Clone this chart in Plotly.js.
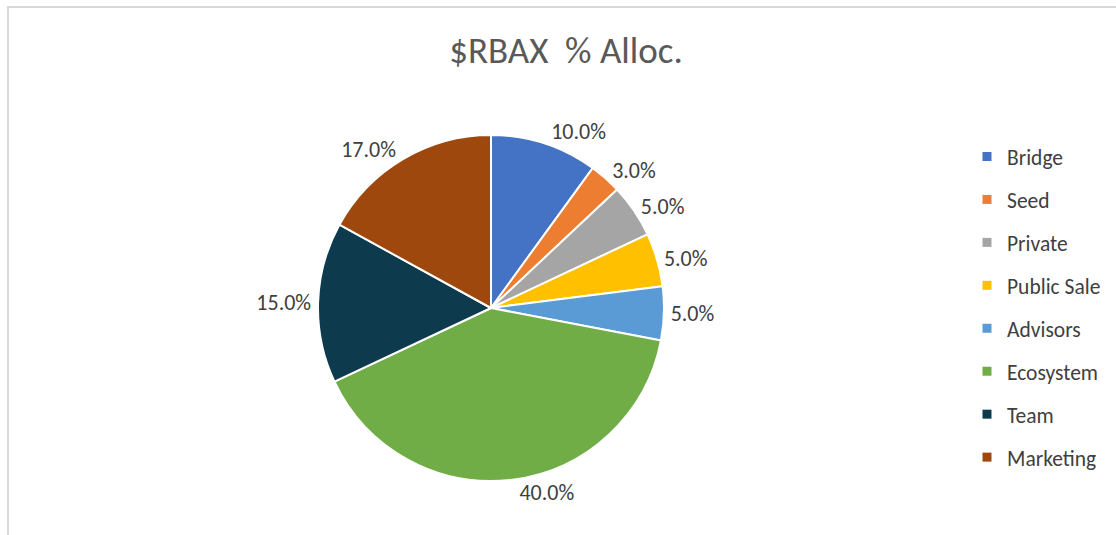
<!DOCTYPE html>
<html>
<head>
<meta charset="utf-8">
<script src="https://cdn.plot.ly/plotly-3.0.1.min.js"></script>
<style>
  html, body { margin: 0; padding: 0; background: #ffffff; }
  #wrap { position: relative; width: 1116px; height: 535px; overflow: hidden; }
  #chart { position: absolute; left: 0; top: 0; width: 1116px; height: 535px; }
  #frame { position: absolute; left: 7px; top: 6px; width: 1200px; height: 600px;
           border: 2px solid #d9d9d9; box-sizing: border-box; pointer-events: none; }
</style>
</head>
<body>
<div id="wrap">
  <div id="chart"></div>
  <div id="frame"></div>
</div>
<script>
const categories = ["Bridge", "Seed", "Private", "Public Sale", "Advisors", "Ecosystem", "Team", "Marketing"];
const allocation = [10, 3, 5, 5, 5, 40, 15, 17];
const sliceColors = ["#4472C4", "#ED7D31", "#A5A5A5", "#FFC000", "#5B9BD5", "#70AD47", "#0E3A4E", "#9E480E"];
const chartTitle = "$RBAX  % Alloc.";

const FONT = "Calibri, Carlito, Lato, 'Open Sans', sans-serif";

const pie = {
  type: "pie",
  labels: categories,
  values: allocation,
  sort: false,
  direction: "clockwise",
  rotation: 0,
  marker: { colors: sliceColors, line: { color: "#ffffff", width: 2 } },
  texttemplate: "%{percent:.1%}",
  textposition: "outside",
  outsidetextfont: { family: FONT, size: 22, color: "#404040" },
  hoverinfo: "none",
  showlegend: false,
  domain: { x: [318 / 1116, 664 / 1116], y: [(535 - 481) / 535, (535 - 135) / 535] }
};

// legend entries (one group per category so spacing can match)
const legendTraces = categories.map((c, i) => ({
  type: "scatter",
  mode: "markers",
  x: [null], y: [null],
  name: c,
  legendgroup: "g" + i,
  marker: { symbol: "square", size: 9, color: sliceColors[i] },
  hoverinfo: "none",
  showlegend: true
}));

const layout = {
  width: 1116,
  height: 535,
  margin: { l: 0, r: 0, t: 0, b: 0 },
  paper_bgcolor: "#ffffff",
  plot_bgcolor: "#ffffff",
  title: {
    text: chartTitle,
    font: { family: FONT, size: 37, color: "#595959" },
    x: 566 / 1116, xanchor: "center",
    y: 1 - 50 / 535, yanchor: "middle"
  },
  xaxis: { visible: false },
  yaxis: { visible: false },
  showlegend: true,
  legend: {
    x: 967 / 1116, xanchor: "left",
    y: 1 - 136 / 535, yanchor: "top",
    font: { family: FONT, size: 21.5, color: "#404040" },
    tracegroupgap: 12,
    bgcolor: "rgba(0,0,0,0)"
  }
};

Plotly.newPlot("chart", [pie].concat(legendTraces), layout, { staticPlot: true, displayModeBar: false });
</script>
</body>
</html>
